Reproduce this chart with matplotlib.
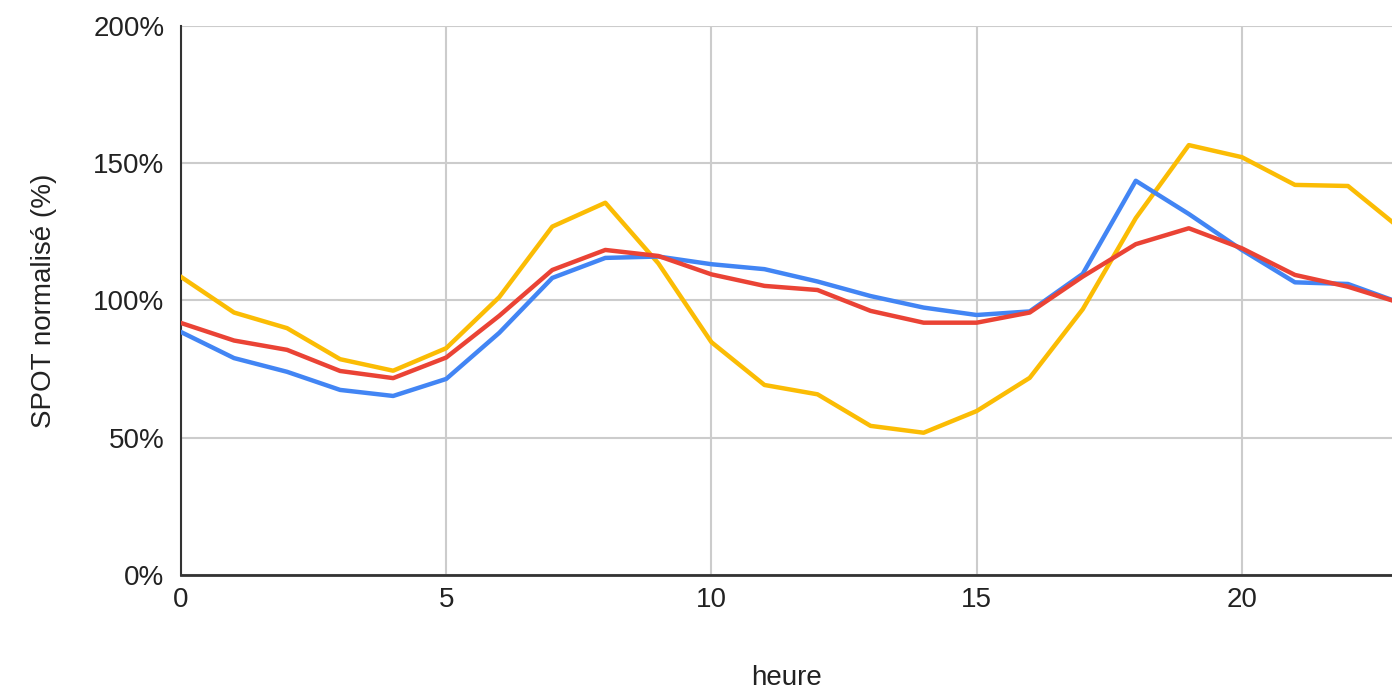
import matplotlib.pyplot as plt
from matplotlib.ticker import FuncFormatter

plt.rcParams['font.family'] = ['Liberation Sans', 'DejaVu Sans']

heures = list(range(24))
bleu = [88.5, 79.0, 74.0, 67.4, 65.2, 71.4, 88.2, 108.2, 115.5, 116.0, 113.2, 111.4,
        106.9, 101.6, 97.4, 94.7, 96.0, 109.7, 143.6, 131.5, 118.4, 106.6, 106.0, 99.0]
rouge = [91.8, 85.4, 82.0, 74.3, 71.7, 79.2, 94.4, 111.1, 118.4, 116.2, 109.5, 105.3,
         103.8, 96.2, 91.9, 91.9, 95.6, 108.7, 120.5, 126.3, 119.0, 109.3, 105.0, 99.0]
jaune = [108.6, 95.6, 89.9, 78.6, 74.4, 82.6, 101.2, 126.9, 135.6, 113.5, 84.8, 69.2,
         65.8, 54.3, 51.8, 59.7, 71.8, 96.8, 130.0, 156.6, 152.2, 142.1, 141.7, 126.0]

fig = plt.figure(figsize=(13.92, 6.91), dpi=100)
ax = fig.add_axes([0.130, 0.168, 0.870, 0.7944])

ax.plot(heures, jaune, color='#FBBC04', lw=3.2, zorder=3)
ax.plot(heures, bleu, color='#4285F4', lw=3.2, zorder=4)
ax.plot(heures, rouge, color='#EA4335', lw=3.2, zorder=5)

ax.set_xlim(0, 22.83)
ax.set_ylim(0, 200)
ax.set_xticks([0, 5, 10, 15, 20])
ax.set_yticks([0, 50, 100, 150, 200])
ax.yaxis.set_major_formatter(FuncFormatter(lambda v, p: f'{int(v)}%'))
ax.grid(True, color='#cccccc', lw=1.5)
ax.set_axisbelow(True)
ax.tick_params(length=0, labelsize=20, colors='#222222')
ax.tick_params(axis='y', pad=12)
ax.tick_params(axis='x', pad=9)

for s in ['top', 'right']:
    ax.spines[s].set_visible(False)
ax.spines['left'].set_color('#333333')
ax.spines['bottom'].set_color('#333333')
ax.spines['left'].set_linewidth(1.5)
ax.spines['bottom'].set_linewidth(2)

ax.set_xlabel('heure', fontsize=20, labelpad=37, color='#222222')
ax.set_ylabel('SPOT normalisé (%)', fontsize=20, labelpad=26, color='#222222')

plt.savefig('out.png', dpi=100)
